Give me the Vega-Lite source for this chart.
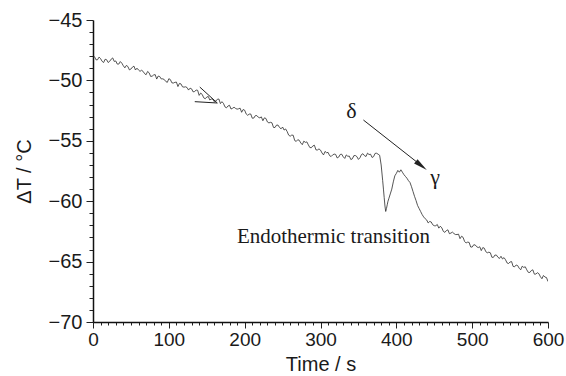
{
  "$schema": "https://vega.github.io/schema/vega-lite/v6.json",
  "width": 455,
  "height": 302,
  "autosize": "none",
  "padding": {"left": 93, "top": 20, "right": 18, "bottom": 54},
  "background": "white",
  "config": {"view": {"stroke": null}},
  "datasets": {
    "curve": [
      {"t":0,"v":-48.08},{"t":4,"v":-48.30},{"t":8,"v":-48.07},{"t":12,"v":-48.42},{"t":16,"v":-48.25},{"t":20,"v":-48.52},{"t":24,"v":-48.24},{"t":28,"v":-48.43},{"t":32,"v":-48.65},{"t":36,"v":-48.44},{"t":40,"v":-48.79},{"t":44,"v":-48.76},{"t":48,"v":-49.13},{"t":52,"v":-48.90},{"t":56,"v":-49.14},{"t":60,"v":-49.14},{"t":64,"v":-49.16},{"t":68,"v":-49.44},{"t":72,"v":-49.26},{"t":76,"v":-49.67},{"t":80,"v":-49.55},{"t":84,"v":-49.89},{"t":88,"v":-49.68},{"t":92,"v":-49.87},{"t":96,"v":-50.09},{"t":100,"v":-49.86},{"t":104,"v":-50.20},{"t":108,"v":-50.16},{"t":112,"v":-50.51},{"t":116,"v":-50.29},{"t":120,"v":-50.56},{"t":124,"v":-50.59},{"t":128,"v":-50.64},{"t":132,"v":-50.95},{"t":136,"v":-50.80},{"t":140,"v":-51.24},{"t":144,"v":-51.16},{"t":148,"v":-51.52},{"t":152,"v":-51.33},{"t":156,"v":-51.54},{"t":160,"v":-51.77},{"t":164,"v":-51.56},{"t":168,"v":-51.92},{"t":172,"v":-51.90},{"t":176,"v":-52.27},{"t":180,"v":-52.06},{"t":184,"v":-52.31},{"t":188,"v":-52.32},{"t":192,"v":-52.35},{"t":196,"v":-52.64},{"t":200,"v":-52.47},{"t":204,"v":-52.89},{"t":208,"v":-52.78},{"t":212,"v":-53.12},{"t":216,"v":-52.91},{"t":220,"v":-53.10},{"t":224,"v":-53.34},{"t":228,"v":-53.15},{"t":232,"v":-53.52},{"t":236,"v":-53.51},{"t":240,"v":-53.90},{"t":244,"v":-53.70},{"t":248,"v":-54.01},{"t":252,"v":-54.11},{"t":256,"v":-54.23},{"t":260,"v":-54.62},{"t":264,"v":-54.54},{"t":268,"v":-55.05},{"t":272,"v":-54.96},{"t":276,"v":-55.32},{"t":280,"v":-55.13},{"t":284,"v":-55.34},{"t":288,"v":-55.57},{"t":292,"v":-55.37},{"t":296,"v":-55.76},{"t":300,"v":-55.77},{"t":304,"v":-56.17},{"t":308,"v":-55.99},{"t":312,"v":-56.23},{"t":316,"v":-56.17},{"t":320,"v":-56.13},{"t":324,"v":-56.35},{"t":328,"v":-56.11},{"t":332,"v":-56.46},{"t":336,"v":-56.28},{"t":340,"v":-56.55},{"t":344,"v":-56.23},{"t":348,"v":-56.31},{"t":352,"v":-56.41},{"t":356,"v":-56.07},{"t":360,"v":-56.30},{"t":364,"v":-56.14},{"t":368,"v":-56.38},{"t":372,"v":-56.04},{"t":376,"v":-56.11},{"t":378,"v":-56.2},{"t":380,"v":-57.0},{"t":382,"v":-58.3},{"t":383,"v":-59.0},{"t":384,"v":-59.7},{"t":385,"v":-60.4},{"t":386,"v":-60.85},{"t":387,"v":-60.6},{"t":388,"v":-60.3},{"t":389,"v":-60.0},{"t":390,"v":-59.8},{"t":392,"v":-59.4},{"t":394,"v":-59.0},{"t":396,"v":-58.4},{"t":398,"v":-57.9},{"t":400,"v":-57.7},{"t":402,"v":-57.45},{"t":404,"v":-57.6},{"t":406,"v":-57.4},{"t":408,"v":-57.6},{"t":410,"v":-57.8},{"t":412,"v":-57.95},{"t":414,"v":-58.1},{"t":416,"v":-58.3},{"t":418,"v":-58.45},{"t":420,"v":-58.8},{"t":422,"v":-59.2},{"t":424,"v":-59.6},{"t":426,"v":-59.95},{"t":428,"v":-60.35},{"t":430,"v":-60.6},{"t":432,"v":-60.85},{"t":434,"v":-61.1},{"t":436,"v":-61.3},{"t":438,"v":-61.45},{"t":440,"v":-61.55},{"t":444,"v":-61.68},{"t":448,"v":-61.95},{"t":452,"v":-62.03},{"t":456,"v":-62.23},{"t":460,"v":-62.21},{"t":464,"v":-62.58},{"t":468,"v":-62.37},{"t":472,"v":-62.64},{"t":476,"v":-62.68},{"t":480,"v":-62.76},{"t":484,"v":-63.10},{"t":488,"v":-62.99},{"t":492,"v":-63.46},{"t":496,"v":-63.41},{"t":500,"v":-63.80},{"t":504,"v":-63.62},{"t":508,"v":-63.84},{"t":512,"v":-64.09},{"t":516,"v":-63.89},{"t":520,"v":-64.27},{"t":524,"v":-64.27},{"t":528,"v":-64.65},{"t":532,"v":-64.46},{"t":536,"v":-64.74},{"t":540,"v":-64.78},{"t":544,"v":-64.85},{"t":548,"v":-65.16},{"t":552,"v":-65.00},{"t":556,"v":-65.43},{"t":560,"v":-65.33},{"t":564,"v":-65.68},{"t":568,"v":-65.48},{"t":572,"v":-65.68},{"t":576,"v":-65.90},{"t":580,"v":-65.68},{"t":584,"v":-66.03},{"t":588,"v":-66.00},{"t":592,"v":-66.42},{"t":596,"v":-66.28},{"t":600,"v":-66.65},
      {"t":2,"v":-48.04},{"t":6,"v":-48.29},{"t":10,"v":-48.20},{"t":14,"v":-48.52},{"t":18,"v":-48.29},{"t":22,"v":-48.42},{"t":26,"v":-48.14},{"t":30,"v":-48.39},{"t":34,"v":-48.65},{"t":38,"v":-48.57},{"t":42,"v":-48.96},{"t":46,"v":-48.85},{"t":50,"v":-49.06},{"t":54,"v":-48.82},{"t":58,"v":-48.99},{"t":62,"v":-49.25},{"t":66,"v":-49.25},{"t":70,"v":-49.53},{"t":74,"v":-49.37},{"t":78,"v":-49.65},{"t":82,"v":-49.52},{"t":86,"v":-49.64},{"t":90,"v":-49.88},{"t":94,"v":-49.93},{"t":98,"v":-50.16},{"t":102,"v":-49.93},{"t":106,"v":-50.22},{"t":110,"v":-50.14},{"t":114,"v":-50.25},{"t":118,"v":-50.53},{"t":122,"v":-50.53},{"t":126,"v":-50.80},{"t":130,"v":-50.70},{"t":134,"v":-50.92},{"t":138,"v":-50.82},{"t":142,"v":-51.05},{"t":146,"v":-51.44},{"t":150,"v":-51.38},{"t":154,"v":-51.62},{"t":158,"v":-51.56},{"t":162,"v":-51.71},{"t":166,"v":-51.54},{"t":170,"v":-51.76},{"t":174,"v":-52.19},{"t":178,"v":-52.12},{"t":182,"v":-52.37},{"t":186,"v":-52.22},{"t":190,"v":-52.38},{"t":194,"v":-52.30},{"t":198,"v":-52.41},{"t":202,"v":-52.78},{"t":206,"v":-52.79},{"t":210,"v":-53.13},{"t":214,"v":-52.92},{"t":218,"v":-53.05},{"t":222,"v":-53.02},{"t":226,"v":-53.10},{"t":230,"v":-53.44},{"t":234,"v":-53.47},{"t":238,"v":-53.89},{"t":242,"v":-53.70},{"t":246,"v":-53.90},{"t":250,"v":-53.86},{"t":254,"v":-54.02},{"t":258,"v":-54.53},{"t":262,"v":-54.53},{"t":266,"v":-54.98},{"t":270,"v":-54.91},{"t":274,"v":-55.18},{"t":278,"v":-55.03},{"t":282,"v":-55.09},{"t":286,"v":-55.56},{"t":290,"v":-55.42},{"t":294,"v":-55.75},{"t":298,"v":-55.67},{"t":302,"v":-56.01},{"t":306,"v":-55.88},{"t":310,"v":-55.96},{"t":314,"v":-56.30},{"t":318,"v":-56.10},{"t":322,"v":-56.42},{"t":326,"v":-56.13},{"t":330,"v":-56.33},{"t":334,"v":-56.17},{"t":338,"v":-56.27},{"t":342,"v":-56.49},{"t":346,"v":-56.22},{"t":350,"v":-56.54},{"t":354,"v":-56.14},{"t":358,"v":-56.23},{"t":362,"v":-56.02},{"t":366,"v":-56.11},{"t":370,"v":-56.31},{"t":374,"v":-56.03},
      {"t":442,"v":-61.80},{"t":446,"v":-61.72},{"t":450,"v":-62.03},{"t":454,"v":-61.93},{"t":458,"v":-62.07},{"t":462,"v":-62.50},{"t":466,"v":-62.43},{"t":470,"v":-62.69},{"t":474,"v":-62.56},{"t":478,"v":-62.76},{"t":482,"v":-62.73},{"t":486,"v":-62.90},{"t":490,"v":-63.33},{"t":494,"v":-63.39},{"t":498,"v":-63.79},{"t":502,"v":-63.61},{"t":506,"v":-63.77},{"t":510,"v":-63.77},{"t":514,"v":-63.84},{"t":518,"v":-64.18},{"t":522,"v":-64.22},{"t":526,"v":-64.64},{"t":530,"v":-64.46},{"t":534,"v":-64.64},{"t":538,"v":-64.56},{"t":542,"v":-64.67},{"t":546,"v":-65.11},{"t":550,"v":-65.03},{"t":554,"v":-65.40},{"t":558,"v":-65.28},{"t":562,"v":-65.55},{"t":566,"v":-65.38},{"t":570,"v":-65.43},{"t":574,"v":-65.89},{"t":578,"v":-65.74},{"t":582,"v":-66.04},{"t":586,"v":-65.92},{"t":590,"v":-66.25},{"t":594,"v":-66.15},{"t":598,"v":-66.32}
    ],
    "arrows": [
      {"t":140.8,"v":-50.55,"t2":163.9,"v2":-51.87},
      {"t":134.2,"v":-51.76,"t2":163.9,"v2":-51.87},
      {"t":356.6,"v":-53.28,"t2":436.0,"v2":-57.2}
    ],
    "heads": [
      {"t":432.95,"v":-57.06}
    ],
    "labels": [
      {"t":340.9,"v":-53.14,"label":"δ","size":22},
      {"t":451,"v":-58.58,"label":"γ","size":22},
      {"t":317,"v":-63.48,"label":"Endothermic transition","size":21}
    ]
  },
  "encoding": {
    "x": {
      "field": "t", "type": "quantitative",
      "scale": {"domain": [0, 600], "nice": false, "zero": false},
      "axis": {
        "title": "Time / s",
        "format": "d",
        "values": [0,10,20,30,40,50,60,70,80,90,100,110,120,130,140,150,160,170,180,190,200,210,220,230,240,250,260,270,280,290,300,310,320,330,340,350,360,370,380,390,400,410,420,430,440,450,460,470,480,490,500,510,520,530,540,550,560,570,580,590,600],
        "labelExpr": "datum.value % 100 === 0 ? datum.label : ''",
        "tickSize": {"condition": {"test": "datum.value % 100 === 0", "value": 6}, "value": 3},
        "labelOverlap": false,
        "labelFlush": false,
        "grid": false,
        "domainColor": "#111",
        "domainWidth": 1.5,
        "tickColor": "#222",
        "tickWidth": 1,
        "labelFont": "Liberation Sans",
        "labelFontSize": 19,
        "labelColor": "#1a1a1a",
        "labelPadding": 2,
        "titleFont": "Liberation Sans",
        "titleFontSize": 20,
        "titleFontWeight": "normal",
        "titleColor": "#1a1a1a",
        "titlePadding": 5
      }
    },
    "y": {
      "field": "v", "type": "quantitative",
      "scale": {"domain": [-70, -45], "nice": false, "zero": false},
      "axis": {
        "title": "ΔT / °C",
        "format": "d",
        "values": [-70,-69.5,-69,-68.5,-68,-67.5,-67,-66.5,-66,-65.5,-65,-64.5,-64,-63.5,-63,-62.5,-62,-61.5,-61,-60.5,-60,-59.5,-59,-58.5,-58,-57.5,-57,-56.5,-56,-55.5,-55,-54.5,-54,-53.5,-53,-52.5,-52,-51.5,-51,-50.5,-50,-49.5,-49,-48.5,-48,-47.5,-47,-46.5,-46,-45.5,-45],
        "labelExpr": "datum.value % 5 === 0 ? datum.label : ''",
        "tickSize": {"condition": {"test": "datum.value % 5 === 0", "value": 7}, "value": 4},
        "labelOverlap": false,
        "labelFlush": false,
        "grid": false,
        "domainColor": "#111",
        "domainWidth": 1.5,
        "tickColor": "#222",
        "tickWidth": 1,
        "labelFont": "Liberation Sans",
        "labelFontSize": 20,
        "labelColor": "#1a1a1a",
        "labelPadding": 4,
        "titleFont": "Liberation Sans",
        "titleFontSize": 20,
        "titleFontWeight": "normal",
        "titleColor": "#1a1a1a",
        "titlePadding": 14
      }
    }
  },
  "layer": [
    {
      "data": {"name": "curve"},
      "mark": {"type": "line", "color": "#2a2a2a", "strokeWidth": 0.8, "clip": true}
    },
    {
      "data": {"name": "arrows"},
      "mark": {"type": "rule", "color": "#222", "strokeWidth": 1},
      "encoding": {
        "x2": {"field": "t2"},
        "y2": {"field": "v2"}
      }
    },
    {
      "data": {"name": "heads"},
      "mark": {"type": "point", "shape": "M1,0L-1,-0.4L-1,0.4Z", "filled": true, "color": "#222", "opacity": 1, "size": 196, "angle": 38.3}
    },
    {
      "data": {"name": "labels"},
      "mark": {"type": "text", "font": "Liberation Serif", "color": "#1a1a1a", "align": "center", "baseline": "alphabetic"},
      "encoding": {
        "text": {"field": "label", "type": "nominal"},
        "size": {"field": "size", "type": "quantitative", "scale": null, "legend": null}
      }
    }
  ]
}
